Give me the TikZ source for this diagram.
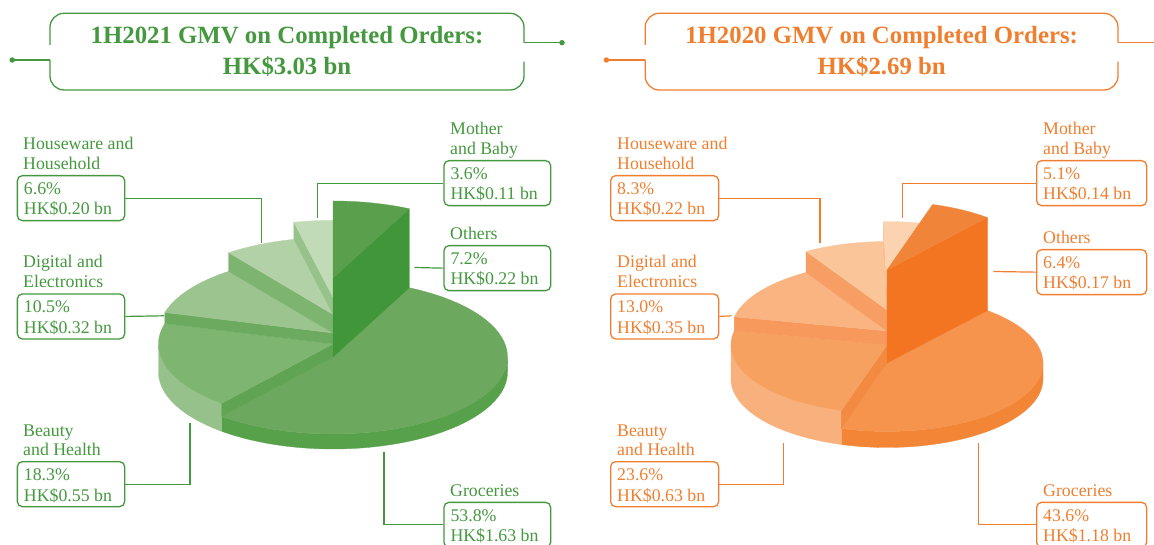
\documentclass[tikz,border=0pt]{standalone}
\usepackage{fontspec}
\setmainfont{Liberation Serif}
\definecolor{gtxt}{HTML}{44983E}
\definecolor{otxt}{HTML}{F07E2F}
% green pie colours
\definecolor{gOtop}{HTML}{5A9F4B}\definecolor{gOrad}{HTML}{41963A}
\definecolor{gGtop}{HTML}{6CA85D}\definecolor{gGside}{HTML}{57A14B}
\definecolor{gBtop}{HTML}{7EB570}\definecolor{gBside}{HTML}{97C18A}\definecolor{gBrad}{HTML}{60A352}
\definecolor{gDtop}{HTML}{9CC48F}\definecolor{gDrad}{HTML}{6CAA5F}
\definecolor{gHtop}{HTML}{B3D1A6}\definecolor{gHrad}{HTML}{7DB470}
\definecolor{gMtop}{HTML}{C2DBB7}\definecolor{gMrad}{HTML}{97C289}
% orange pie colours
\definecolor{oOtop}{HTML}{F0853A}\definecolor{oOrad}{HTML}{F37421}
\definecolor{oGtop}{HTML}{F6944D}\definecolor{oGside}{HTML}{F38537}
\definecolor{oBtop}{HTML}{F7A161}\definecolor{oBside}{HTML}{F8B17D}\definecolor{oBrad}{HTML}{F38A42}
\definecolor{oDtop}{HTML}{F9B482}\definecolor{oDrad}{HTML}{F7985C}
\definecolor{oHtop}{HTML}{FAC598}\definecolor{oHrad}{HTML}{F79E64}
\definecolor{oMtop}{HTML}{FCD3B1}\definecolor{oMrad}{HTML}{F9B98A}

% cx rx ry apex a1 a2 colour
\newcommand{\pieTop}[7]{%
  \filldraw[fill=#7,draw=#7,line width=0.3pt] (#1,#4) -- plot[domain=#5:#6,samples=60] ({#1+#2*cos(\x)},{#4-#3*sin(\x)}) -- cycle;}
% cx rx ry apexHigh apexLow angle colour
\newcommand{\pieRad}[7]{%
  \filldraw[fill=#7,draw=#7,line width=0.3pt] (#1,#4) -- ({#1+#2*cos(#6)},{#4-#3*sin(#6)}) -- ({#1+#2*cos(#6)},{#5-#3*sin(#6)}) -- (#1,#5) -- cycle;}
% cx rx ry apex base a1 a2 colour
\newcommand{\pieSide}[8]{%
  \filldraw[fill=#8,draw=#8,line width=0.3pt] plot[domain=#6:#7,samples=60] ({#1+#2*cos(\x)},{#4-#3*sin(\x)}) -- plot[domain=#7:#6,samples=60] ({#1+#2*cos(\x)},{#5-#3*sin(\x)}) -- cycle;}
% name x top width pct amount colour
\newcommand{\valBox}[7]{%
  \node[valbox,draw=#7,minimum width=#4pt] (#1) at (#2,#3) {};
  \node[lab,text=#7] at ({#2+7},{#3+19.5}) {#5};
  \node[lab,text=#7] at ({#2+7},{#3+40}) {#6};}

\begin{document}
\begin{tikzpicture}[x=1pt,y=-1pt,
  lab/.style={anchor=base west,inner sep=0pt,font=\fontsize{17.8}{20}\selectfont},
  ttl/.style={anchor=base,inner sep=0pt,font=\fontsize{24.8}{31}\selectfont\bfseries},
  valbox/.style={anchor=north west,rounded corners=5pt,line width=1.3pt,minimum height=45pt,inner sep=0pt},
  conn/.style={line width=1.2pt},
  tbox/.style={line width=1.3pt,rounded corners=14pt},
  dotc/.style={circle,fill,inner sep=0pt,minimum size=5.5pt}]
\useasboundingbox (0,0) rectangle (1154,545);
\clip (0,0) rectangle (1154,545);

% ================= GREEN PIE =================
\pieSide{333}{174.5}{77}{357}{372}{-129.6}{0}{gGside}
\pieTop{333}{174.5}{77}{357}{64.08}{-129.6}{gGtop}
\pieSide{333}{174.5}{77}{344}{372}{180}{230.4}{gBside}
\pieRad{333}{174.5}{77}{344}{357}{230.4}{gBrad}
\pieTop{333}{174.5}{77}{344}{230.4}{164.52}{gBtop}
\pieRad{333}{174.5}{77}{333}{344}{164.52}{gDrad}
\pieTop{333}{174.5}{77}{333}{164.52}{126.72}{gDtop}
\pieRad{333}{174.5}{77}{314.4}{333}{126.72}{gHrad}
\pieTop{333}{174.5}{77}{314.4}{126.72}{102.96}{gHtop}
\pieRad{333}{174.5}{77}{297.3}{314.4}{102.96}{gMrad}
\pieTop{333}{174.5}{77}{297.3}{102.96}{90}{gMtop}
\pieRad{333}{174.5}{77}{278}{357}{64.08}{gOrad}
\pieTop{333}{174.5}{77}{278}{90}{64.08}{gOtop}

% ================= ORANGE PIE =================
\pieSide{887}{156}{68.5}{363}{379}{-107}{0}{oGside}
\pieTop{887}{156}{68.5}{363}{49.96}{-107}{oGtop}
\pieSide{887}{156}{68.5}{345}{379}{180}{253}{oBside}
\pieRad{887}{156}{68.5}{345}{363}{253}{oBrad}
\pieTop{887}{156}{68.5}{345}{253}{168.04}{oBtop}
\pieRad{887}{156}{68.5}{331}{345}{168.04}{oDrad}
\pieTop{887}{156}{68.5}{331}{168.04}{121.24}{oDtop}
\pieRad{887}{156}{68.5}{310}{331}{121.24}{oHrad}
\pieTop{887}{156}{68.5}{310}{121.24}{91.36}{oHtop}
\pieRad{887}{156}{68.5}{290}{310}{91.36}{oMrad}
\pieTop{887}{156}{68.5}{290}{91.36}{73}{oMtop}
\pieRad{887}{156}{68.5}{270}{363}{49.96}{oOrad}
\pieTop{887}{156}{68.5}{270}{73}{49.96}{oOtop}

% ================= TITLES =================
\draw[tbox,gtxt] (50,45) -- (50,13.3) -- (524,13.3) -- (524,42.7);
\draw[tbox,gtxt] (524,61.7) -- (524,90) -- (50,90) -- (50,60);
\node[dotc,gtxt] (gdotL) at (12.2,60) {};
\node[dotc,gtxt] (gdotR) at (562,42.7) {};
\coordinate (gjL) at (50,60);
\coordinate (gjR) at (524,42.7);
\draw[conn,gtxt,line width=1.3pt] (gdotL.center) -- (gjL);
\draw[conn,gtxt,line width=1.3pt] (gjR) -- (gdotR.center);
\node[ttl,text=gtxt] (gtitleA) at (287,43.5) {1H2021 GMV on Completed Orders:};
\node[ttl,text=gtxt] (gtitleB) at (287,74.5) {HK\$3.03 bn};

\draw[tbox,otxt] (645.2,45) -- (645.2,13.3) -- (1118,13.3) -- (1118,42.7);
\draw[tbox,otxt] (1118,61.7) -- (1118,90) -- (645.2,90) -- (645.2,60);
\node[dotc,otxt] (odotL) at (606.4,60) {};
\coordinate (ojL) at (645.2,60);
\coordinate (ojR) at (1118,42.7);
\coordinate (oedge) at (1160,42.7);
\draw[conn,otxt,line width=1.3pt] (odotL.center) -- (ojL);
\draw[conn,otxt,line width=1.3pt] (ojR) -- (oedge);
\node[ttl,text=otxt] (otitleA) at (881.6,43.5) {1H2020 GMV on Completed Orders:};
\node[ttl,text=otxt] (otitleB) at (881.6,74.5) {HK\$2.69 bn};

% ================= GREEN LABELS =================
\node[lab,text=gtxt] at (23,150) {Houseware and};
\node[lab,text=gtxt] at (23,169.5) {Household};
\valBox{gHW}{16.7}{175}{107.3}{6.6\%}{HK\$0.20 bn}{gtxt}

\node[lab,text=gtxt] at (23,268) {Digital and};
\node[lab,text=gtxt] at (23,287.8) {Electronics};
\valBox{gDE}{16.7}{293.3}{107.3}{10.5\%}{HK\$0.32 bn}{gtxt}

\node[lab,text=gtxt] at (23,436) {Beauty};
\node[lab,text=gtxt] at (23,455.5) {and Health};
\valBox{gBH}{16.7}{461}{107.3}{18.3\%}{HK\$0.55 bn}{gtxt}

\node[lab,text=gtxt] at (450,135) {Mother};
\node[lab,text=gtxt] at (450,154.5) {and Baby};
\valBox{gMB}{443.3}{160}{106.7}{3.6\%}{HK\$0.11 bn}{gtxt}

\node[lab,text=gtxt] at (450,239.5) {Others};
\valBox{gOT}{443.3}{245}{106.7}{7.2\%}{HK\$0.22 bn}{gtxt}

\node[lab,text=gtxt] at (450,496.2) {Groceries};
\valBox{gGR}{443.3}{501.7}{106.7}{53.8\%}{HK\$1.63 bn}{gtxt}

\coordinate (gHWe) at (261.7,243);
\coordinate (gDEe) at (164,315.8);
\coordinate (gBHe) at (190,422.7);
\coordinate (gMBe) at (317.3,218.3);
\coordinate (gOTe) at (414.3,267.5);
\coordinate (gGRe) at (384,451.7);
\draw[conn,gtxt] (gHW.east) -| (gHWe);
\draw[conn,gtxt] (gDE.east) -- (gDEe);
\draw[conn,gtxt] (gBH.east) -| (gBHe);
\draw[conn,gtxt] (gMB.west) -| (gMBe);
\draw[conn,gtxt] (gOT.west) -- (gOTe);
\draw[conn,gtxt] (gGR.west) -| (gGRe);

% ================= ORANGE LABELS =================
\node[lab,text=otxt] at (617,150) {Houseware and};
\node[lab,text=otxt] at (617,169.5) {Household};
\valBox{oHW}{610}{175}{108}{8.3\%}{HK\$0.22 bn}{otxt}

\node[lab,text=otxt] at (617,268) {Digital and};
\node[lab,text=otxt] at (617,287.8) {Electronics};
\valBox{oDE}{610}{293.3}{108}{13.0\%}{HK\$0.35 bn}{otxt}

\node[lab,text=otxt] at (617,436) {Beauty};
\node[lab,text=otxt] at (617,455.5) {and Health};
\valBox{oBH}{610}{461}{108}{23.6\%}{HK\$0.63 bn}{otxt}

\node[lab,text=otxt] at (1043,135) {Mother};
\node[lab,text=otxt] at (1043,154.5) {and Baby};
\valBox{oMB}{1036}{160}{110}{5.1\%}{HK\$0.14 bn}{otxt}

\node[lab,text=otxt] at (1043,243.5) {Others};
\valBox{oOT}{1036}{249}{110}{6.4\%}{HK\$0.17 bn}{otxt}

\node[lab,text=otxt] at (1043,496.2) {Groceries};
\valBox{oGR}{1036}{501.7}{110}{43.6\%}{HK\$1.18 bn}{otxt}

\coordinate (oHWe) at (820,243);
\coordinate (oDEe) at (731.7,315.8);
\coordinate (oBHe) at (783.3,443.3);
\coordinate (oMBe) at (902.7,218.3);
\coordinate (oOTe) at (993.3,271.5);
\coordinate (oGRe) at (978.3,443.3);
\draw[conn,otxt] (oHW.east) -| (oHWe);
\draw[conn,otxt] (oDE.east) -- (oDEe);
\draw[conn,otxt] (oBH.east) -| (oBHe);
\draw[conn,otxt] (oMB.west) -| (oMBe);
\draw[conn,otxt] (oOT.west) -- (oOTe);
\draw[conn,otxt] (oGR.west) -| (oGRe);
\end{tikzpicture}
\end{document}
